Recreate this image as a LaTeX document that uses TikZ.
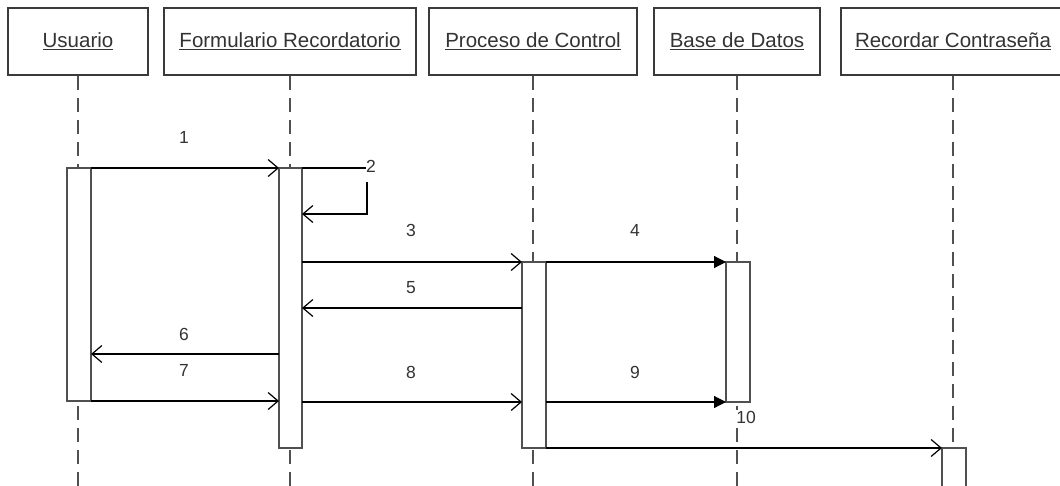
\documentclass[tikz,border=0pt]{standalone}
\usepackage{fontspec}
\setmainfont{Liberation Sans}
\usetikzlibrary{arrows.meta}
\definecolor{boxline}{HTML}{3A3A3A}
\definecolor{barline}{HTML}{505050}
\definecolor{txt}{HTML}{333333}
\tikzset{
  head/.style={draw=boxline, line width=1.5pt, fill=white, minimum height=67pt, inner sep=0pt,
    font=\fontsize{20.5}{24}\selectfont, text=txt},
  life/.style={draw=barline, line width=1.6pt, dash pattern=on 14pt off 8pt},
  actbar/.style={draw=barline, line width=1.6pt, fill=white},
  msg/.style={draw=black, line width=1.2pt},
  openarr/.style={msg, -{Straight Barb[length=10pt,width=17pt,line width=1.2pt]}},
  fillarr/.style={msg, -{Triangle[length=12pt,width=12pt]}},
  num/.style={font=\fontsize{17.5}{20}\selectfont, text=txt, inner sep=0pt}
}
\begin{document}
\begin{tikzpicture}[x=1pt,y=-1pt]
\useasboundingbox (0,0) rectangle (1060,485);
\clip (0,0) rectangle (1060,485);
\fill[white] (0,0) rectangle (1060,485);
% heads
\node[head, minimum width=140pt] (u) at (78,41.5) {\underline{Usuario}};
\node[head, minimum width=252pt] (f) at (290,41.5) {\underline{Formulario Recordatorio}};
\node[head, minimum width=208pt] (p) at (533,41.5) {\underline{Proceso de Control}};
\node[head, minimum width=166pt] (b) at (737,41.5) {\underline{Base de Datos}};
\node[head, minimum width=224pt] (r) at (953,41.5) {\underline{Recordar Contraseña}};
% lifeline ends
\coordinate (ue) at (78,500);
\coordinate (fe) at (290,500);
\coordinate (pe) at (533,500);
\coordinate (be) at (737,500);
\coordinate (re) at (953,500);
\draw[life] (u.south) -- (ue);
\draw[life] (f.south) -- (fe);
\draw[life] (p.south) -- (pe);
\draw[life] (b.south) -- (be);
\draw[life] (r.south) -- (re);
% activation bars
\draw[actbar] (67,168) rectangle (91,401);
\draw[actbar] (279,168) rectangle (302,448);
\draw[actbar] (522,262) rectangle (546,448);
\draw[actbar] (726,262) rectangle (750,402);
\draw[actbar] (942,448) rectangle (966,510);
\coordinate (uR1) at (91,168);
\coordinate (fL1) at (279,168);
\coordinate (fR1) at (302,168);
\coordinate (s2a) at (366,168);
\coordinate (s2b) at (367,182);
\coordinate (s2c) at (367,214);
\coordinate (fR2) at (302,214);
\coordinate (fR3) at (302,262);
\coordinate (pL3) at (522,262);
\coordinate (pR4) at (546,262);
\coordinate (bL4) at (726,262);
\coordinate (pL5) at (522,308);
\coordinate (fR5) at (302,308);
\coordinate (fL6) at (279,354);
\coordinate (uR6) at (91,354);
\coordinate (uR7) at (91,401);
\coordinate (fL7) at (279,401);
\coordinate (fR8) at (302,402);
\coordinate (pL8) at (522,402);
\coordinate (pR9) at (546,402);
\coordinate (bL9) at (726,402);
\coordinate (pR11) at (546,448);
\coordinate (rL11) at (942,448);
% messages
\draw[openarr] (uR1) -- (fL1);
\draw[msg] (fR1) -- (s2a);
\draw[openarr] (s2b) -- (s2c) -- (fR2);
\draw[openarr] (fR3) -- (pL3);
\draw[fillarr] (pR4) -- (bL4);
\draw[openarr] (pL5) -- (fR5);
\draw[openarr] (fL6) -- (uR6);
\draw[openarr] (uR7) -- (fL7);
\draw[openarr] (fR8) -- (pL8);
\draw[fillarr] (pR9) -- (bL9);
\draw[openarr] (pR11) -- (rL11);
% labels
\node[num] (l1) at (184,137) {1};
\node[num] (l2) at (371,166) {2};
\node[num] (l3) at (411,230) {3};
\node[num] (l4) at (635,230) {4};
\node[num] (l5) at (411,288) {5};
\node[num] (l6) at (184,334) {6};
\node[num] (l7) at (184,370) {7};
\node[num] (l8) at (411,372) {8};
\node[num] (l9) at (635,372) {9};
\node[num, fill=white, inner sep=1pt] (l10) at (746,417) {10};
\end{tikzpicture}
\end{document}
